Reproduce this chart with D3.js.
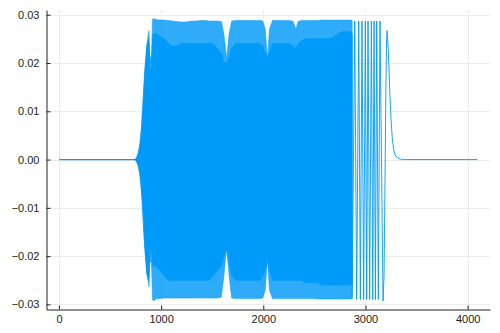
<!DOCTYPE html>
<html>
<head>
<meta charset="utf-8">
<script src="https://cdn.jsdelivr.net/npm/d3@7"></script>
<style>
  html, body { margin: 0; padding: 0; background: #fff; }
  svg { display: block; }
  text { font-family: "Liberation Sans", Arial, sans-serif; }
</style>
</head>
<body>
<svg id="chart" width="500" height="333"></svg>
<script>
// ---------------- data ----------------
const xTicks = [0, 1000, 2000, 3000, 4000];
const xTickLabels = ["0", "1000", "2000", "3000", "4000"];
const yTicks = [-0.03, -0.02, -0.01, 0, 0.01, 0.02, 0.03];
const yTickLabels = ["\u22120.03", "\u22120.02", "\u22120.01", "0.00", "0.01", "0.02", "0.03"];

// flat leading part of the signal
const leadX = [1, 400, 745];
const leadY = [0, 0, 0];

// envelope of the densely oscillating part (onset flare + dense band)
const bandX = [745, 760, 775, 790, 800, 810, 820, 830, 843, 860, 875, 882, 890, 905, 916, 924, 950, 990, 1030, 1070, 1110, 1150, 1190, 1230, 1270, 1310, 1350, 1390, 1430, 1470, 1510, 1550, 1590, 1615, 1641, 1665, 1690, 1730, 1770, 1810, 1850, 1890, 1930, 1970, 1995, 2020, 2040, 2060, 2090, 2130, 2170, 2210, 2250, 2290, 2320, 2340, 2370, 2410, 2450, 2490, 2530, 2570, 2610, 2650, 2690, 2730, 2770, 2810, 2850, 2870];
const bandTopOuter = [0, 0.0004, 0.0012, 0.0028, 0.0045, 0.0072, 0.0105, 0.0145, 0.0190, 0.0235, 0.0260, 0.0267, 0.0210, 0.0215, 0.0290, 0.0292, 0.0290, 0.0289, 0.0289, 0.0288, 0.0287, 0.0286, 0.0285, 0.0285, 0.0286, 0.0287, 0.0287, 0.0288, 0.0288, 0.0287, 0.0287, 0.0287, 0.0286, 0.0260, 0.0210, 0.0260, 0.0287, 0.0288, 0.0288, 0.0288, 0.0288, 0.0288, 0.0288, 0.0288, 0.0287, 0.0270, 0.0210, 0.0270, 0.0288, 0.0288, 0.0288, 0.0288, 0.0288, 0.0287, 0.0270, 0.0286, 0.0288, 0.0288, 0.0288, 0.0288, 0.0288, 0.0289, 0.0289, 0.0289, 0.0289, 0.0289, 0.0289, 0.0289, 0.0289, 0.0288];
const bandTopInner = [0, 0.0004, 0.0012, 0.0028, 0.0045, 0.0072, 0.0105, 0.0145, 0.0190, 0.0235, 0.0250, 0.0240, 0.0185, 0.0190, 0.0240, 0.0260, 0.0260, 0.0255, 0.0250, 0.0240, 0.0235, 0.0235, 0.0240, 0.0240, 0.0240, 0.0240, 0.0240, 0.0240, 0.0240, 0.0240, 0.0240, 0.0230, 0.0220, 0.0200, 0.0200, 0.0210, 0.0230, 0.0240, 0.0240, 0.0240, 0.0240, 0.0240, 0.0240, 0.0240, 0.0235, 0.0220, 0.0210, 0.0220, 0.0240, 0.0240, 0.0240, 0.0240, 0.0240, 0.0235, 0.0230, 0.0240, 0.0245, 0.0250, 0.0250, 0.0250, 0.0250, 0.0250, 0.0250, 0.0250, 0.0255, 0.0260, 0.0265, 0.0265, 0.0265, 0.0260];
const bandBottomInner = [0, -0.0004, -0.0012, -0.0028, -0.0045, -0.0072, -0.0105, -0.0145, -0.0190, -0.0235, -0.0250, -0.0240, -0.0185, -0.0190, -0.0210, -0.0220, -0.0220, -0.0230, -0.0240, -0.0250, -0.0250, -0.0250, -0.0250, -0.0250, -0.0250, -0.0250, -0.0250, -0.0250, -0.0250, -0.0250, -0.0240, -0.0230, -0.0220, -0.0200, -0.0184, -0.0210, -0.0240, -0.0250, -0.0250, -0.0250, -0.0250, -0.0250, -0.0250, -0.0250, -0.0240, -0.0230, -0.0205, -0.0230, -0.0250, -0.0250, -0.0250, -0.0250, -0.0250, -0.0250, -0.0250, -0.0250, -0.0250, -0.0255, -0.0255, -0.0255, -0.0255, -0.0260, -0.0260, -0.0260, -0.0260, -0.0260, -0.0260, -0.0260, -0.0260, -0.0260];
const bandBottomOuter = [0, -0.0004, -0.0012, -0.0028, -0.0045, -0.0072, -0.0105, -0.0145, -0.0190, -0.0235, -0.0255, -0.0264, -0.0210, -0.0215, -0.0290, -0.0293, -0.0289, -0.0288, -0.0287, -0.0287, -0.0287, -0.0287, -0.0287, -0.0287, -0.0287, -0.0287, -0.0287, -0.0287, -0.0287, -0.0287, -0.0287, -0.0287, -0.0285, -0.0240, -0.0184, -0.0240, -0.0287, -0.0288, -0.0288, -0.0288, -0.0288, -0.0288, -0.0288, -0.0288, -0.0287, -0.0270, -0.0205, -0.0270, -0.0288, -0.0288, -0.0288, -0.0288, -0.0288, -0.0288, -0.0288, -0.0288, -0.0288, -0.0288, -0.0288, -0.0288, -0.0289, -0.0289, -0.0289, -0.0289, -0.0289, -0.0289, -0.0289, -0.0289, -0.0289, -0.0288];

// resolved oscillations at the end of the signal (turning points) and the final decay
const tailX = [2870, 2895, 2914, 2934, 2950, 2966, 2982, 2999, 3012, 3025, 3041, 3058, 3071, 3084, 3097, 3110, 3126, 3142, 3172, 3182, 3191, 3200, 3206, 3211, 3216, 3222, 3230, 3240, 3250, 3262, 3275, 3290, 3310, 3340, 3380, 4096];
const tailY = [-0.0288, 0.0287, -0.0290, 0.0287, -0.0290, 0.0287, -0.0290, 0.0287, -0.0290, 0.0287, -0.0290, 0.0287, -0.0290, 0.0287, -0.0290, 0.0287, -0.0290, 0.0287, -0.0293, -0.0240, -0.0050, 0.0150, 0.0240, 0.0267, 0.0255, 0.0230, 0.0190, 0.0130, 0.0085, 0.0045, 0.0022, 0.0010, 0.0004, 0.0001, 0, 0];

// ---------------- drawing ----------------
const plotLeft = 46.5, plotRight = 490, plotTop = 10, plotBottom = 309.5;
const color = "#009af9";

const svg = d3.select("#chart");

const x = d3.scaleLinear().domain([-121.85, 4218.85]).range([plotLeft, plotRight]);
const y = d3.scaleLinear().domain([-0.03106, 0.03098]).range([plotBottom, plotTop]);

// grid
const grid = svg.append("g").attr("stroke", "#ececec").attr("stroke-width", 1);
grid.selectAll("line.gx").data(xTicks).join("line")
  .attr("x1", d => Math.round(x(d)) + 0.5).attr("x2", d => Math.round(x(d)) + 0.5)
  .attr("y1", plotTop).attr("y2", plotBottom);
grid.selectAll("line.gy").data(yTicks).join("line")
  .attr("y1", d => Math.round(y(d)) + 0.5).attr("y2", d => Math.round(y(d)) + 0.5)
  .attr("x1", plotLeft).attr("x2", plotRight);

// signal
const band = bandX.map((v, i) => ({x: v, to: bandTopOuter[i], ti: bandTopInner[i], bi: bandBottomInner[i], bo: bandBottomOuter[i]}));

const outerArea = d3.area().x(d => x(d.x)).y0(d => y(d.bo)).y1(d => y(d.to));
const innerArea = d3.area().x(d => x(d.x)).y0(d => y(d.bi)).y1(d => y(d.ti));

svg.append("path").datum(band).attr("d", outerArea)
  .attr("fill", color).attr("fill-opacity", 0.82)
  .attr("stroke", color).attr("stroke-width", 0.6).attr("stroke-opacity", 0.8);
svg.append("path").datum(band).attr("d", innerArea)
  .attr("fill", color).attr("stroke", color).attr("stroke-width", 0.8);

const line = d3.line().x(d => x(d[0])).y(d => y(d[1]));
svg.append("path").datum(leadX.map((v, i) => [v, leadY[i]])).attr("d", line)
  .attr("fill", "none").attr("stroke", color).attr("stroke-width", 1.2);
svg.append("path").datum(tailX.map((v, i) => [v, tailY[i]])).attr("d", line)
  .attr("fill", "none").attr("stroke", color).attr("stroke-width", 0.9).attr("stroke-linejoin", "round");

// axes
const xAxis = d3.axisBottom(x).tickValues(xTicks).tickFormat((d, i) => xTickLabels[i])
  .tickSizeInner(-4).tickSizeOuter(0).tickPadding(6);
const yAxis = d3.axisLeft(y).tickValues(yTicks).tickFormat((d, i) => yTickLabels[i])
  .tickSizeInner(-4).tickSizeOuter(0).tickPadding(7);

const gx = svg.append("g").attr("transform", `translate(0,${plotBottom})`).call(xAxis);
const gy = svg.append("g").attr("transform", `translate(${plotLeft},0)`).call(yAxis);
[gx, gy].forEach(g => {
  g.select(".domain").attr("stroke", "#222").attr("stroke-width", 1);
  g.selectAll(".tick line").attr("stroke", "#222").attr("stroke-width", 1);
  g.selectAll(".tick text").attr("fill", "#222").attr("font-size", "11px")
    .attr("font-family", "'Liberation Sans', Arial, sans-serif");
});
</script>
</body>
</html>
